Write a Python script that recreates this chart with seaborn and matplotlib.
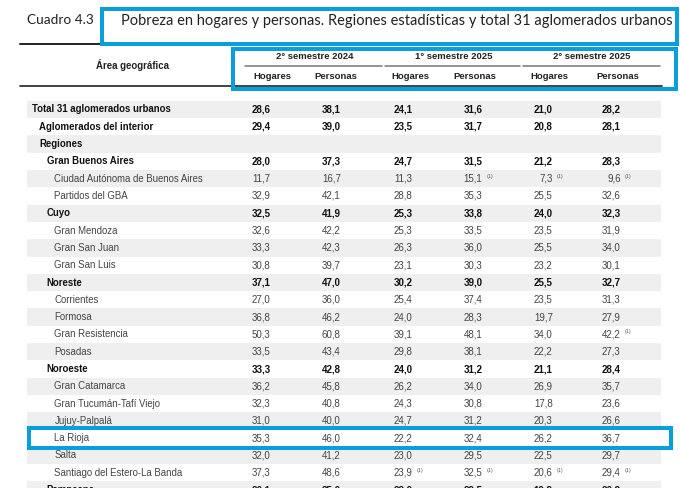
import numpy as np
import matplotlib.pyplot as plt
import seaborn as sns
from matplotlib.patches import Rectangle

# rows of the table
areas = ["Total 31 aglomerados urbanos", "Aglomerados del interior", "Regiones",
         "Gran Buenos Aires", "Ciudad Autónoma de Buenos Aires", "Partidos del GBA",
         "Cuyo", "Gran Mendoza", "Gran San Juan", "Gran San Luis",
         "Noreste", "Corrientes", "Formosa", "Gran Resistencia", "Posadas",
         "Noroeste", "Gran Catamarca", "Gran Tucumán-Tafí Viejo", "Jujuy-Palpalá",
         "La Rioja", "Salta", "Santiago del Estero-La Banda", "Pampeana"]
levels = [0, 1, 1, 2, 3, 3, 2, 3, 3, 3, 2, 3, 3, 3, 3, 2, 3, 3, 3, 3, 3, 3, 2]

hogares_2s2024 = [28.6, 29.4, None, 28.0, 11.7, 32.9, 32.5, 32.6, 33.3, 30.8, 37.1, 27.0,
                  36.8, 50.3, 33.5, 33.3, 36.2, 32.3, 31.0, 35.3, 32.0, 37.3, 26.1]
personas_2s2024 = [38.1, 39.0, None, 37.3, 16.7, 42.1, 41.9, 42.2, 42.3, 39.7, 47.0, 36.0,
                   46.2, 60.8, 43.4, 42.8, 45.8, 40.8, 40.0, 46.0, 41.2, 48.6, 35.6]
hogares_1s2025 = [24.1, 23.5, None, 24.7, 11.3, 28.8, 25.3, 25.3, 26.3, 23.1, 30.2, 25.4,
                  24.0, 39.1, 29.8, 24.0, 26.2, 24.3, 24.7, 22.2, 23.0, 23.9, 22.9]
personas_1s2025 = [31.6, 31.7, None, 31.5, 15.1, 35.3, 33.8, 33.5, 36.0, 30.3, 39.0, 37.4,
                   28.3, 48.1, 38.1, 31.2, 34.0, 30.8, 31.2, 32.4, 29.5, 32.5, 29.5]
hogares_2s2025 = [21.0, 20.8, None, 21.2, 7.3, 25.5, 24.0, 23.5, 25.5, 23.2, 25.5, 23.5,
                  19.7, 34.0, 22.2, 21.1, 26.9, 17.8, 20.3, 26.2, 22.5, 20.6, 19.8]
personas_2s2025 = [28.2, 28.1, None, 28.3, 9.6, 32.6, 32.3, 31.9, 34.0, 30.1, 32.7, 31.3,
                   27.9, 42.2, 27.3, 28.4, 35.7, 23.6, 26.6, 36.7, 29.7, 29.4, 26.8]

# cells carrying the footnote mark (1): (row, column)
notes = [(4, 3), (4, 4), (4, 5), (13, 5), (21, 2), (21, 3), (21, 4), (21, 5)]
highlight_row = 19

periods = ["2° semestre 2024", "1° semestre 2025", "2° semestre 2025"]
subcols = ["Hogares", "Personas"]

columns = [hogares_2s2024, personas_2s2024, hogares_1s2025,
           personas_1s2025, hogares_2s2025, personas_2s2025]

sns.set_theme(style="white")
plt.rcParams['font.family'] = ['Liberation Sans', 'DejaVu Sans']

BLUE = '#0a9fdc'
STRIPE = '#efefef'
NARROW = ['Liberation Sans Narrow', 'Liberation Sans']
TITLE = ['Lato', 'DejaVu Sans']

fig = plt.figure(figsize=(6.8, 4.88), dpi=100)
ax = fig.add_axes([0, 0, 1, 1])
ax.set_xlim(0, 680)
ax.set_ylim(488, 0)
ax.axis('off')

row_y = 109.5 + 17.3 * np.arange(len(areas))
row_h = 17.3
indent = [31.7, 39.3, 46.7, 54.3]
col_right = [270.7, 340.7, 412.7, 482.3, 552.7, 620.7]

# zebra stripes
for i, y in enumerate(row_y):
    if i % 2 == 0:
        ax.add_patch(Rectangle((26.7, y - row_h / 2), 634, row_h, color=STRIPE, lw=0, zorder=0))

# title
ax.text(27, 20.5, "Cuadro 4.3", fontsize=9.8, family=TITLE, color='#222222', va='center')
ax.text(121, 20.5, "Pobreza en hogares y personas. Regiones estadísticas y total 31 aglomerados urbanos",
        fontsize=10.5, family=TITLE, color='#222222', va='center')
ax.plot([20, 102], [43.5, 43.5], color='#222222', lw=1.4)

# header
ax.text(132.5, 65, "Área geográfica", fontsize=6.9, family=NARROW, weight='bold', ha='center', va='center', color='#222222')
group_centers = [314.3, 453.3, 592]
group_lines = [(245, 381.7), (385, 520), (523.3, 660)]
sub_centers = [272, 336.3, 410.8, 475, 549.5, 618.3]
for p, cx, (x0, x1) in zip(periods, group_centers, group_lines):
    ax.text(cx, 56.5, p, fontsize=6.8, family=NARROW, weight='bold', ha='center', va='center', color='#222222')
    ax.plot([x0, x1], [66, 66], color='#777777', lw=1.1)
for j, cx in enumerate(sub_centers):
    ax.text(cx, 76.5, subcols[j % 2], fontsize=6.8, family=NARROW, weight='bold', ha='center', va='center', color='#222222')
ax.plot([20, 662], [86, 86], color='#222222', lw=1.2)

# body
for i, (name, lev) in enumerate(zip(areas, levels)):
    y = row_y[i]
    bold = lev <= 2
    weight = 'bold' if bold else 'normal'
    color = '#111111' if bold else '#444444'
    ax.text(indent[lev], y, name, fontsize=6.9, weight=weight, color=color, va='center')
    for j, col in enumerate(columns):
        v = col[i]
        if v is None:
            continue
        ax.text(col_right[j], y, f"{v:.1f}".replace('.', ','), fontsize=7.0, family=NARROW,
                weight=weight, color=color, ha='right', va='center')
        if (i, j) in notes:
            ax.text(col_right[j] + 4, y - 2.5, "(1)", fontsize=3.8, color='#555555', va='center')

# blue highlight frames
lw = 2.9
ax.add_patch(Rectangle((102, 9), 575, 35, fill=False, ec=BLUE, lw=lw, zorder=5))
ax.add_patch(Rectangle((233, 49), 443, 40, fill=False, ec=BLUE, lw=lw, zorder=5))
ax.add_patch(Rectangle((29, row_y[highlight_row] - 10), 642, 20, fill=False, ec=BLUE, lw=lw, zorder=5))

fig.savefig('out.png', dpi=100)
